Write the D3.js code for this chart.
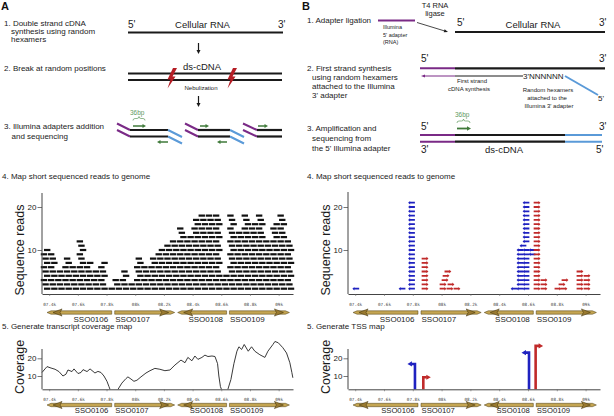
<!DOCTYPE html>
<html><head><meta charset="utf-8">
<script src="https://cdn.jsdelivr.net/npm/d3@7"></script>
<style>
body{margin:0;background:#fff;}
svg{display:block;font-family:"Liberation Sans",Arial,Helvetica,sans-serif;}
</style>
</head><body>
<svg id="c" width="614" height="416"></svg>
<script>
// ---------------- DATA ----------------
const tickValues = [107.4,107.6,107.8,108.0,108.2,108.4,108.6,108.8,109.0];
const tickLabels = ["07.4k","07.6k","07.8k","08k","08.2k","08.4k","08.6k","08.8k","09k"];
const yTicks = [10,20];

const geneNames  = ["SSO0106","SSO0107","SSO0108","SSO0109"];
const geneStart  = [107.385,107.857,108.296,108.657];
const geneEnd    = [107.836,108.275,108.637,109.075];
const geneStrand = [-1,1,-1,1];

// panel A reads: stack height per genomic column
const readColPos = [107.375,107.425,107.475,107.525,107.575,107.625,107.675,107.725,107.775,107.825,
  107.875,107.925,107.975,108.025,108.075,108.125,108.175,108.225,108.275,108.325,108.375,108.425,
  108.475,108.525,108.575,108.625,108.675,108.725,108.775,108.825,108.875,108.925,108.975,109.025,109.075];
const readColCount = [10,9,5,8,6,12,7,5,7,1,3,5,2,8,6,8,10,11,12,15,13,17,18,18,18,4,18,14,18,16,18,12,16,18,12];

// panel B reads: stacks (position, first row, last row)
const minusPos  = [107.404,107.725,107.791,108.503,108.544,108.565,108.586,108.586,108.628];
const minusFrom = [1,1,1,1,1,11,1,12,9];
const minusTo   = [1,1,21,1,10,11,10,21,10];
const plusPos   = [107.885,108.010,108.058,108.107,108.065,108.024,108.031,108.044,108.663,108.711,108.808,108.850,108.836,108.857,108.961,109.010];
const plusFrom  = [1,1,1,1,2,3,4,5,1,1,1,1,2,3,1,1];
const plusTo    = [8,2,1,1,2,3,4,5,21,3,1,1,2,3,5,4];

// coverage map (null = gap)
const covPos = [107.350,107.371,107.385,107.413,107.441,107.468,107.496,107.517,107.531,107.559,107.573,107.601,
  107.622,107.636,107.664,107.685,107.719,107.740,107.761,107.782,107.803,107.817,107.824, 107.850,
  107.880,107.907,107.935,107.949,107.970,107.991,108.012,108.040,108.075,108.103,108.137,108.172,108.207,
  108.242,108.277,108.319,108.347,108.367,108.395,108.416,108.437,108.465,108.486,108.507,108.535,108.556,
  108.574,108.583,108.594,108.601, 108.620,
  108.646,108.667,108.688,108.709,108.723,108.742,108.760,108.788,108.811,108.834,108.869,108.904,108.925,
  108.960,108.974,108.997,109.029,109.055,109.078,109.092,109.099];
const covVal = [12,14,15.3,14.5,13.8,12.5,10,11,13.4,12.5,14,11.4,
  12,13.6,12.5,14,11.7,12.6,12,10,7,4,2.5, null,
  2.5,6,8.5,9.5,8.3,7,7.6,9.5,11.7,13,14.3,13.8,13,
  13.4,16.2,19,17.5,20.5,18.6,21.3,19.4,20.5,21.8,21,21.3,21,
  17,10,4,2.5, null,
  2.5,8,17,24,26.5,25,27.8,24,26.5,24,22,20.5,24,
  27.8,29.5,28.8,26,23,17.5,12,9];

// TSS map
const tssPos = [107.815,107.873,108.607,108.653];
const tssVal = [16.8,9.3,23.2,27];
const tssStrand = [-1,1,-1,1];

// ---------------- DRAW ----------------
const svg = d3.select("#c");
const INK = "#1a1a1a";
const PURPLE = "#7a2a86", LBLUE = "#5a9ad8", GREEN = "#3f7a3a", GTXT = "#5f9a5f";
const BLUE = "#1f22c0", RED = "#c02a2a", BOLT = "#b51d25";

function T(g,x,y,s,size,anchor="start",fill=INK,weight="normal"){
  return g.append("text").attr("x",x).attr("y",y).attr("font-size",size)
    .attr("text-anchor",anchor).attr("fill",fill).attr("font-weight",weight).text(s);
}
function L(g,x1,y1,x2,y2,col=INK,w=2.2){
  return g.append("line").attr("x1",x1).attr("y1",y1).attr("x2",x2).attr("y2",y2)
    .attr("stroke",col).attr("stroke-width",w);
}
function arrowHead(g,x,y,dir,len,half,col){
  const c=Math.cos(dir), s=Math.sin(dir);
  const bx=x-c*len, by=y-s*len;
  g.append("path").attr("d",`M${x},${y}L${bx-s*half},${by+c*half}L${bx+s*half},${by-c*half}Z`).attr("fill",col);
}
function arrowLine(g,x1,y1,x2,y2,col,w,len,half){
  const a=Math.atan2(y2-y1,x2-x1);
  L(g,x1,y1,x2-Math.cos(a)*len*0.8,y2-Math.sin(a)*len*0.8,col,w);
  arrowHead(g,x2,y2,a,len,half,col);
}
function brace(g,x1,x2,y,col){
  const m=(x1+x2)/2;
  g.append("path").attr("d",`M${x1},${y+2} q0,-2 2,-2 H${m-2} q2,0 2,-2 q0,2 2,2 H${x2-2} q2,0 2,2`)
    .attr("fill","none").attr("stroke",col).attr("stroke-width",0.7);
}
function bolt(g,cx,cy){
  g.append("path").attr("transform",`translate(${cx},${cy})`)
    .attr("d","M5,-10 L0.5,-1.5 L3.5,-1.5 L-4.5,10.5 L-1.5,1.5 L-4.5,1.5 L1,-10 Z").attr("fill",BOLT);
}

// ---- Panel A ----
const gA = svg.append("g");
T(gA,1,10,"A",11,"start","#111","bold");
T(gA,4,26,"1. Double strand cDNA",8);
T(gA,11,34,"synthesis using random",8);
T(gA,11,41.5,"hexamers",8);
T(gA,128,28,"5'",10); T(gA,202.5,27.5,"Cellular RNA",9.5,"middle"); T(gA,278,27.5,"3'",10);
L(gA,128,32.5,283,32.5);
arrowLine(gA,198.5,43,198.5,54,INK,1.2,4,2);
T(gA,4,71,"2. Break at random positions",8);
T(gA,202,70,"ds-cDNA",9.5,"middle");
L(gA,128,73.5,282,73.5); L(gA,128,80,282,80);
bolt(gA,172,78); bolt(gA,232,78);
T(gA,201,90,"Nebulization",6,"middle");
arrowLine(gA,198.5,96,198.5,107,INK,1.2,4,2);
T(gA,130,115,"36bp",6.5,"start",GTXT);
brace(gA,133,145,118.5,GTXT);
T(gA,4,129,"3. Illumina adapters addition",8);
T(gA,11.5,139,"and sequencing",8);
const frags=[[117,130,168,182],[185,198,230,244],[243,257,282,null]];
frags.forEach(([p,b0,b1,bl])=>{
  L(gA,p,123.5,b0,130,PURPLE,2); L(gA,p,130,b0,136.5,PURPLE,2);
  L(gA,b0,130,b1,130); L(gA,b0,136.5,b1,136.5);
  if(bl!==null){ L(gA,b1,130,bl,137,LBLUE,2); L(gA,b1,136.5,bl,143.5,LBLUE,2); }
});
arrowLine(gA,133,126,146,126,GREEN,1.5,3.5,2);
arrowLine(gA,168,142,157,142,GREEN,1.5,3.5,2);
arrowLine(gA,200,126,209,126,GREEN,1.5,3.5,2);
arrowLine(gA,227,142,217,142,GREEN,1.5,3.5,2);
arrowLine(gA,258,126,268,126,GREEN,1.5,3.5,2);

// ---- Panel B ----
const gB = svg.append("g");
T(gB,302,10,"B",11,"start","#111","bold");
T(gB,435,8,"T4 RNA",7.5,"middle"); T(gB,435,16,"ligase",7.5,"middle");
T(gB,307,23,"1. Adapter ligation",8);
L(gB,378,20.5,415,20.5,PURPLE,2);
T(gB,383,29,"Illumina",5.5); T(gB,383,36.5,"5' adapter",5.5); T(gB,383,44,"(RNA)",5.5);
arrowLine(gB,417,22.5,448,32,INK,0.8,4,1.6);
T(gB,457,26,"5'",10); T(gB,533,27.5,"Cellular RNA",9.5,"middle"); T(gB,599,25.5,"3'",10);
L(gB,455,32,605,32);
T(gB,307,71,"2. First strand synthesis",8);
T(gB,312,80,"using random hexamers",8);
T(gB,312,89,"attached to the Illumina",8);
T(gB,312,97.5,"3' adapter",8);
T(gB,421,62,"5'",10); T(gB,599,62,"3'",10);
L(gB,420,68.3,455,68.3,PURPLE,2); L(gB,455,68.3,605,68.3);
L(gB,455,76,523,76,INK,1); L(gB,424,76,455,76,PURPLE,1); arrowHead(gB,421,76,Math.PI,4,1.6,PURPLE);
T(gB,523,79,"3'NNNNNN",8);
L(gB,565,76,598,95,LBLUE,2);
T(gB,598,100.5,"5'",8);
T(gB,472,83,"First strand",6,"middle"); T(gB,469,91,"cDNA synthesis",6,"middle");
T(gB,548,92,"Random hexamers",6,"middle"); T(gB,547,100,"attached to the",6,"middle"); T(gB,549,108,"Illumina  3' adapter",6,"middle");
T(gB,455,117,"36bp",6.5,"start",GTXT);
brace(gB,457,470,121,GTXT);
arrowLine(gB,457,128.5,471,128.5,GREEN,1.8,4,2.2);
T(gB,307,131,"3. Amplification and",8);
T(gB,312,141,"sequencing from",8);
T(gB,312,151,"the 5' Illumina adapter",8);
T(gB,421,130,"5'",10); T(gB,599,130,"3'",10);
[135,141.7].forEach(y=>{ L(gB,420,y,455,y,PURPLE,2); L(gB,455,y,565,y); L(gB,565,y,602,y,LBLUE,2); });
T(gB,421,153,"3'",10); T(gB,504,153,"ds-cDNA",9.5,"middle"); T(gB,596,153,"5'",10);

// ---- Charts ----
const xL = d3.scaleLinear().domain([107.35,109.1]).range([42,293]);
const xR = d3.scaleLinear().domain([107.35,109.1]).range([348,600]);
const yReads = d3.scaleLinear().domain([0,20]).range([293,207]);
const yCov = d3.scaleLinear().domain([0,20]).range([393.7,358.3]);

function xAxis(g,x,y){
  const a = d3.axisBottom(x).tickValues(tickValues).tickFormat((d,i)=>tickLabels[i]).tickSize(2).tickPadding(6.5).tickSizeOuter(0);
  const ax = g.append("g").attr("transform",`translate(0,${y})`).call(a);
  ax.select(".domain").attr("stroke","#444").attr("stroke-width",1);
  ax.selectAll(".tick line").attr("stroke","#666").attr("stroke-width",0.6);
  ax.selectAll("text").attr("font-family","'DejaVu Sans Mono',monospace").attr("font-size",4.3).attr("fill","#444");
}
function yAxis(g,x,y,yTop,yBot){
  const a = d3.axisLeft(y).tickValues(yTicks).tickSize(4.5).tickPadding(1);
  const ax = g.append("g").attr("transform",`translate(${x},0)`).call(a);
  ax.select(".domain").remove();
  ax.selectAll(".tick line").attr("stroke","#555").attr("stroke-width",0.8);
  ax.selectAll("text").attr("font-size",8).attr("fill","#222").attr("font-family","'Liberation Sans',Arial,sans-serif");
  g.append("line").attr("x1",x).attr("x2",x).attr("y1",yTop).attr("y2",yBot).attr("stroke","#444").attr("stroke-width",1);
}
function vLabel(g,x,y,s){
  g.append("text").attr("transform",`translate(${x},${y}) rotate(-90)`).attr("text-anchor","middle")
    .attr("font-size",12.5).attr("fill",INK).text(s);
}
function genes(g,x,yb,yl,fs){
  geneNames.forEach((n,i)=>{
    const s=x(geneStart[i]), e=x(geneEnd[i]), dir=geneStrand[i];
    const tip = dir>0? e : s, tail = dir>0? s : e;
    const h=1.7;
    const bodyEnd = tip - dir*4;
    g.append("path").attr("d",`M${tail},${yb-h}L${bodyEnd},${yb-h}L${tip},${yb}L${bodyEnd},${yb+h}L${tail},${yb+h}Z`)
      .attr("fill","#c4a552").attr("stroke","#4a3a10").attr("stroke-width",0.5);
    const a0 = tip - dir*15, a1 = tip - dir*6;
    g.append("path").attr("d",`M${a0},${yb-3.6}L${a1},${yb}L${a0},${yb+3.6}L${a0+dir*2},${yb}Z`)
      .attr("fill","#9a7a30").attr("stroke","#3a2c08").attr("stroke-width",0.5);
    g.append("text").attr("x",dir>0? s+0.5 : e-3.5).attr("y",yl).attr("text-anchor",dir>0?"start":"end")
      .attr("font-size",fs).attr("fill",INK).text(n);
  });
}

// 4 - reads, panel A
const g4a = svg.append("g");
T(g4a,2,179,"4. Map short sequenced reads to genome",8);
vLabel(g4a,24,250,"Sequence reads");
const readW = 6.4;
readColPos.forEach((p,i)=>{
  g4a.selectAll(null).data(d3.range(1,readColCount[i]+1)).join("rect")
    .attr("x",r=>xL(p)-readW/2+((r*5)%3-1)*1.6).attr("width",readW)
    .attr("y",r=>yReads(r)-1.1).attr("height",2.2).attr("fill","#111");
});
yAxis(g4a,42,yReads,193,294);
xAxis(g4a,xL,294);
genes(g4a,xL,312.5,321.5,8);

// 4 - reads, panel B
const g4b = svg.append("g");
T(g4b,307,179,"4. Map short sequenced reads to genome",8);
vLabel(g4b,330,250,"Sequence reads");
function readArrow(g,cx,cy,dir,col){
  const hw=3.4, t=cx+dir*hw, b=cx-dir*hw, n=cx+dir*(hw-2);
  g.append("path").attr("d",`M${b},${cy-0.9}L${n},${cy-0.9}L${n},${cy-1.8}L${t},${cy}L${n},${cy+1.8}L${n},${cy+0.9}L${b},${cy+0.9}Z`).attr("fill",col);
}
minusPos.forEach((p,i)=>{ for(let r=minusFrom[i];r<=minusTo[i];r++) readArrow(g4b,xR(p),yReads(r),-1,BLUE); });
plusPos.forEach((p,i)=>{ for(let r=plusFrom[i];r<=plusTo[i];r++) readArrow(g4b,xR(p),yReads(r),1,RED); });
yAxis(g4b,348,yReads,192,294);
xAxis(g4b,xR,294);
genes(g4b,xR,312.5,321.5,8);

// 5 - coverage, panel A
const g5a = svg.append("g");
T(g5a,2,329,"5. Generate transcript coverage map",8);
vLabel(g5a,24,367,"Coverage");
const covData = covPos.map((p,i)=>({p,v:covVal[i]}));
g5a.append("path").datum(covData)
  .attr("d",d3.line().defined(d=>d.v!==null).x(d=>xL(d.p)).y(d=>yCov(d.v)))
  .attr("fill","none").attr("stroke","#222").attr("stroke-width",0.9);
yAxis(g5a,42,yCov,349,389.3);
xAxis(g5a,xL,389.3);
genes(g5a,xL,405,413.2,7.7);

// 5 - TSS map, panel B
const g5b = svg.append("g");
T(g5b,307,329,"5. Generate TSS map",8);
vLabel(g5b,330,367,"Coverage");
tssPos.forEach((p,i)=>{
  const x=xR(p), yt=yCov(tssVal[i]), d=tssStrand[i], col=d>0?RED:BLUE;
  g5b.append("path").attr("d",`M${x},389.3V${yt}H${x+d*3.5}`).attr("fill","none").attr("stroke",col).attr("stroke-width",2.6);
  arrowHead(g5b,x+d*7.5,yt,d>0?0:Math.PI,4.5,2.6,col);
});
yAxis(g5b,348,yCov,349,389.3);
xAxis(g5b,xR,389.3);
genes(g5b,xR,405,413.2,7.7);
</script>
</body></html>
